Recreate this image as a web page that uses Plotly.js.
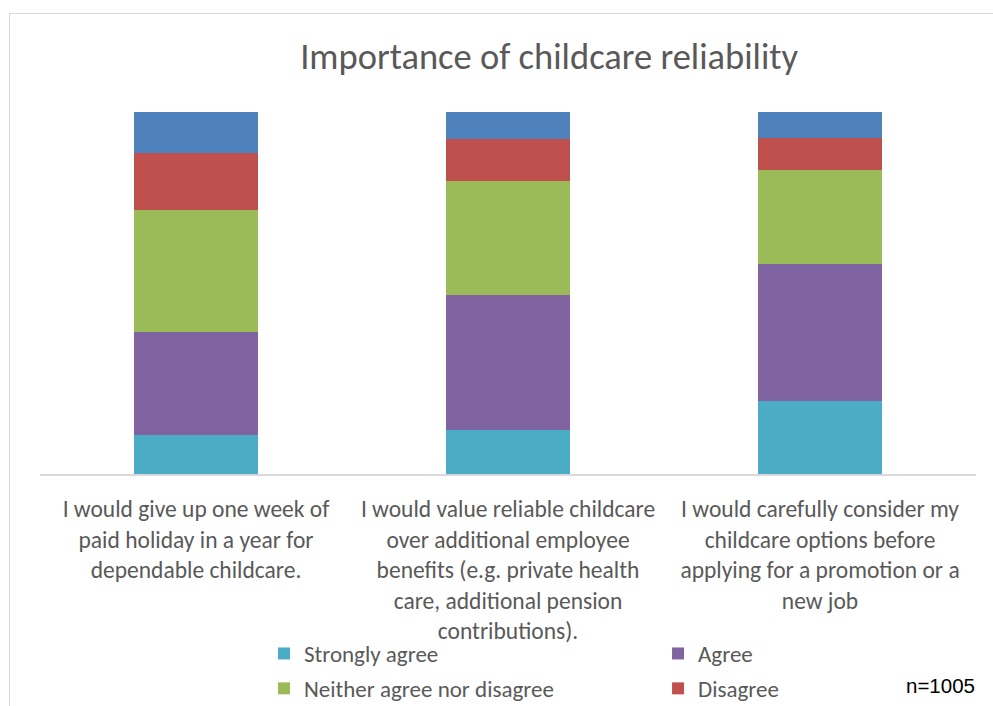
<!DOCTYPE html>
<html>
<head>
<meta charset="utf-8">
<script src="https://cdn.plot.ly/plotly-3.0.1.min.js"></script>
<style>
  html, body { margin:0; padding:0; background:#ffffff; }
  #frame { position:absolute; left:9px; top:13px; width:1000px; height:720px; border:1px solid #d9d9d9; box-sizing:border-box; }
  #chart { position:absolute; left:0; top:0; width:993px; height:706px; }
</style>
</head>
<body>
<div id="frame"></div>
<div id="chart"></div>
<script>
const categories = [
  "I would give up one week of<br>paid holiday in a year for<br>dependable childcare.",
  "I would value reliable childcare<br>over additional employee<br>benefits (e.g. private health<br>care, additional pension<br>contributions).",
  "I would carefully consider my<br>childcare options before<br>applying for a promotion or a<br>new job"
];
const stronglyAgree    = [10.8, 12.2, 20.2];
const agree            = [28.3, 37.3, 37.8];
const neither          = [33.9, 31.5, 26.0];
const disagree         = [15.7, 11.6, 8.9];
const stronglyDisagree = [11.3, 7.4, 7.1];

const FONT = '"Liberation Sans Narrow", Carlito, Calibri, "Open Sans", sans-serif';
const GREY = '#595959';

const traces = [
  {name:'Strongly agree', y:stronglyAgree, color:'#4bacc6', legend:'legend', group:'a'},
  {name:'Agree', y:agree, color:'#8064a2', legend:'legend2', group:'b'},
  {name:'Neither agree nor disagree', y:neither, color:'#9bbb59', legend:'legend', group:'c'},
  {name:'Disagree', y:disagree, color:'#c0504d', legend:'legend2', group:'d'},
  {name:'Strongly disagree', y:stronglyDisagree, color:'#4f81bd', legend:'legend', group:'e', hide:true}
].map(t => ({
  type:'bar', x:categories, y:t.y, name:t.name,
  marker:{color:t.color, line:{width:0}},
  legend:t.legend, legendgroup:t.group,
  showlegend: !t.hide,
  hoverinfo:'name+y'
}));

const legendCommon = {
  orientation:'v', xanchor:'left', yanchor:'top',
  font:{family:FONT, size:23, color:GREY},
  bgcolor:'rgba(0,0,0,0)', tracegroupgap:2,
  itemwidth:30, traceorder:'grouped'
};

const layout = {
  width:993, height:706,
  paper_bgcolor:'rgba(0,0,0,0)', plot_bgcolor:'rgba(0,0,0,0)',
  margin:{l:40, r:17, t:112, b:232, autoexpand:false},
  barmode:'stack', bargap:0.6,
  title:{text:'Importance of childcare reliability', x:0.553, xanchor:'center', y:0.92, yanchor:'middle',
         font:{family:FONT, size:36.5, color:GREY}},
  xaxis:{showline:true, linecolor:'#d9d9d9', linewidth:2, ticks:'', showgrid:false, automargin:false,
         tickangle:0, tickfont:{family:FONT, size:23.5, color:GREY}, ticklabelstandoff:13, fixedrange:true},
  yaxis:{range:[0,100], visible:false, showgrid:false, zeroline:false, fixedrange:true, automargin:false},
  legend:Object.assign({}, legendCommon, {x:0.2393, y:-0.4365}),
  legend2:Object.assign({}, legendCommon, {x:0.6603, y:-0.4365}),
  annotations:[{text:'n=1005', xref:'paper', yref:'paper', x:1.001, y:-0.583, xanchor:'right', yanchor:'middle',
                showarrow:false, font:{family:'"Liberation Sans", Arial, sans-serif', size:20.5, color:'#000000'}}]
};

Plotly.newPlot('chart', traces, layout, {displayModeBar:false, responsive:false});
</script>
</body>
</html>
